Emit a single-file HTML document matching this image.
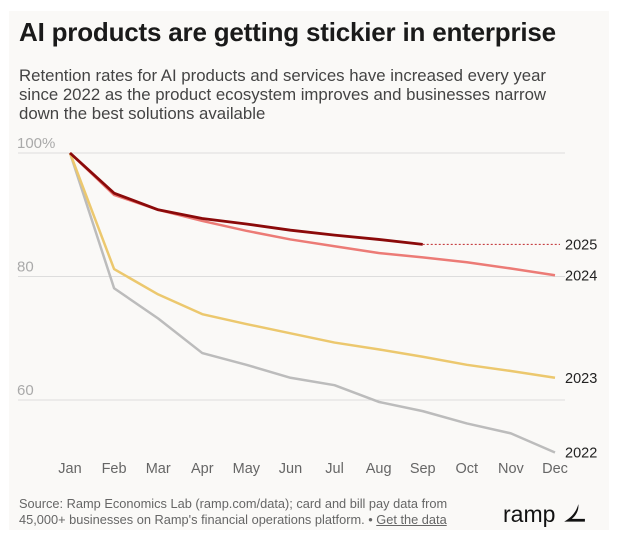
<!DOCTYPE html>
<html><head><meta charset="utf-8"><style>
body{margin:0;width:619px;height:538px;background:#fff;font-family:"Liberation Sans",sans-serif;overflow:hidden}
#panel{position:absolute;left:9px;top:11px;width:600px;height:519px;background:#faf9f7}
h1{position:absolute;left:19px;top:17px;margin:0;font-size:26px;font-weight:bold;color:#1a1a1a;letter-spacing:-0.2px;white-space:nowrap}
#sub{position:absolute;left:19px;top:66px;margin:0;font-size:16.8px;line-height:19px;color:#444;width:560px}
#src{position:absolute;left:19px;top:496px;font-size:12.8px;line-height:15.5px;color:#666;white-space:nowrap}
#src a{color:#666}
#logo{position:absolute;left:503px;top:500px;font-size:23px;color:#111}
svg{position:absolute;left:0;top:0}
</style></head><body>
<div id="panel"></div>
<h1>AI products are getting stickier in enterprise</h1>
<p id="sub">Retention rates for AI products and services have increased every year since 2022 as the product ecosystem improves and businesses narrow down the best solutions available</p>
<svg id="chart" width="619" height="538"></svg>
<div id="src">Source: Ramp Economics Lab (ramp.com/data); card and bill pay data from<br>45,000+ businesses on Ramp's financial operations platform. • <a href="#" style="text-decoration:underline">Get the data</a></div>
<div id="logo">ramp <svg width="24" height="22" style="position:relative;left:0;top:3px" viewBox="0 0 22 20"><path d="M15 1 C13 8 9 13 2 17 L21 17 L21 14.5 L9 14.5 C13 11 15.5 7 15 1Z" fill="#111"/></svg></div>
<script>
const months=["Jan","Feb","Mar","Apr","May","Jun","Jul","Aug","Sep","Oct","Nov","Dec"];
const yTicks=[100,80,60];
const yTickLabels=["100%","80","60"];
const s2022=[100,78.1,73.2,67.6,65.7,63.6,62.4,59.7,58.2,56.2,54.6,51.5];
const s2023=[100,81.2,77.1,73.9,72.3,70.8,69.3,68.2,67.0,65.7,64.7,63.6];
const s2024=[100,93.2,90.8,89.0,87.4,86.0,84.9,83.8,83.1,82.3,81.3,80.2];
const s2025=[100,93.5,90.8,89.4,88.5,87.5,86.7,86.0,85.2];
const NS="http://www.w3.org/2000/svg";
const svg=document.getElementById('chart');
const x=i=>70+i*(555-70)/11;
const y=v=>153+(100-v)*6.175;
function el(t,a){const e=document.createElementNS(NS,t);for(const k in a)e.setAttribute(k,a[k]);svg.appendChild(e);return e;}
yTicks.forEach((t,i)=>{
 const g=el('line',{x1:18,x2:565,y1:y(t),y2:y(t),stroke:'#ddd','stroke-width':1});
 
 
 const l=el('text',{x:17,y:y(t)-5,fill:'#aaa','font-size':15,'font-family':'Liberation Sans'});
 l.textContent=yTickLabels[i];
 
 
});
months.forEach((m,i)=>{
 const t=el('text',{x:x(i),y:473,fill:'#666','font-size':14.5,'text-anchor':'middle','font-family':'Liberation Sans'});
 t.textContent=m;
 
 
});
function line(data,color,w,name){
 const p=el('polyline',{points:data.map((v,i)=>x(i)+','+y(v)).join(' '),fill:'none',stroke:color,'stroke-width':w,'stroke-linejoin':'round'});
 
 
}
line(s2022,'#bcbcbc',2.5,'line-2022');
line(s2023,'#ecc86e',2.5,'line-2023');
line(s2024,'#ec7b76',2.5,'line-2024');
line(s2025,'#8b0a0a',2.8,'line-2025');
const last=s2025[s2025.length-1];
const d=el('line',{x1:x(s2025.length-1),x2:560,y1:y(last),y2:y(last),stroke:'#c0292b','stroke-width':1,'stroke-dasharray':'2,2'});


const labs=[["2025",last],["2024",s2024[11]],["2023",s2023[11]],["2022",s2022[11]]];
labs.forEach(([t,v])=>{
 const e=el('text',{x:565,y:y(v)+5,fill:'#222','font-size':14.5,'font-family':'Liberation Sans'});
 e.textContent=t;
 
 
});
</script>
</body></html>
